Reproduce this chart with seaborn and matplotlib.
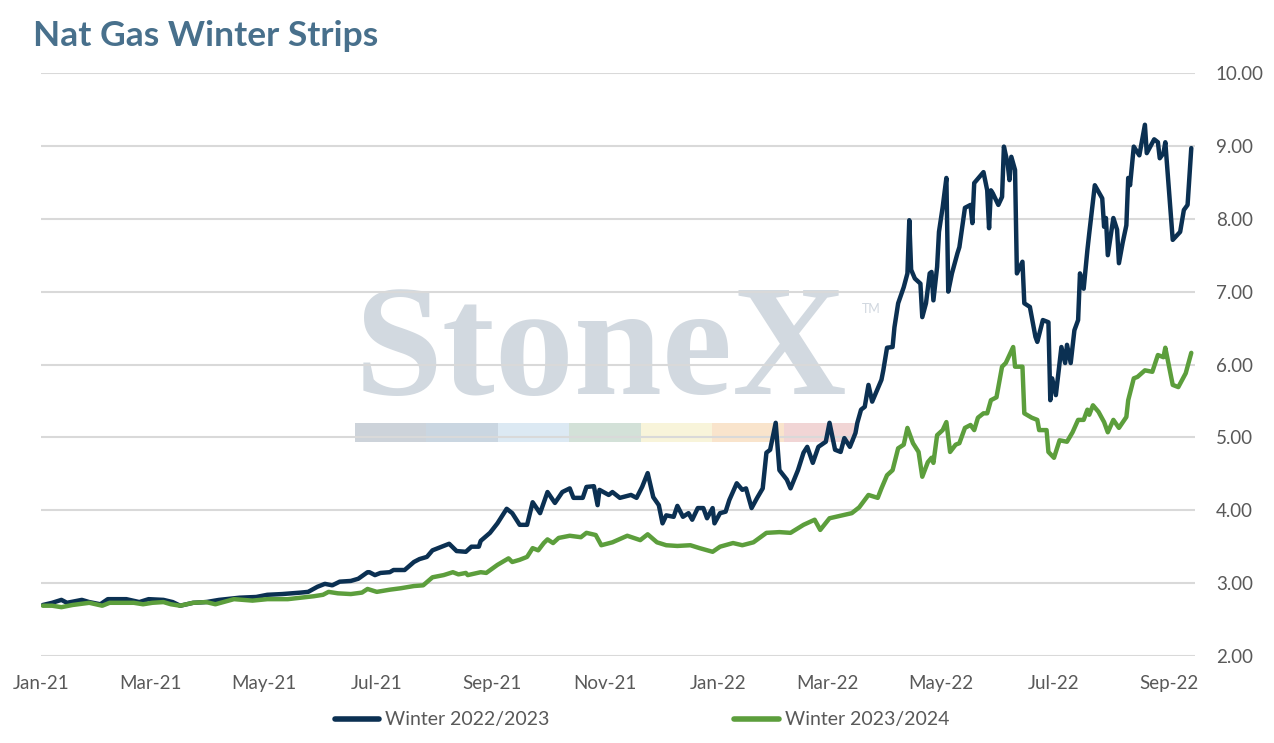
import matplotlib
matplotlib.use("Agg")
import matplotlib.pyplot as plt
import matplotlib.dates as mdates
from matplotlib.patches import Rectangle
from matplotlib.lines import Line2D
import seaborn as sns
import pandas as pd
import numpy as np

# series: days since 2021-01-01, settle price ($/MMBtu)
start_date = "2021-01-01"
axis_days = 622

w2223_days = [1, 6, 11, 14, 22, 26, 32, 36, 46, 53, 58, 66, 71, 75, 82, 89, 96, 107, 116, 122,
              130, 140, 144, 149, 153, 157, 161, 167, 171, 176, 177, 180, 183, 188, 190, 194, 196,
              201, 204, 208, 211, 217, 220, 224, 229, 232, 236, 237, 242, 246, 251, 254, 258, 262,
              265, 269, 273, 277, 281, 285, 287, 292, 294, 298, 300, 301, 306, 308, 312, 318, 321,
              324, 327, 330, 333, 335, 337, 341, 343, 346, 349, 351, 354, 357, 359, 362, 363, 366,
              369, 371, 375, 378, 380, 383, 386, 389, 391, 393, 396, 398, 402, 404, 408, 411, 413,
              416, 419, 423, 425, 428, 431, 433, 436, 439, 440, 442, 444, 446, 448, 453, 454, 456,
              459, 460, 462, 465, 467, 468, 469, 471, 474, 475, 477, 479, 480, 481, 483, 484, 486,
              488, 489, 491, 494, 495, 498, 501, 502, 503, 508, 510, 511, 512, 513, 516, 518, 519,
              521, 522, 523, 525, 526, 529, 530, 533, 536, 537, 540, 543, 544, 545, 547, 550, 552,
              553, 555, 557, 559, 560, 562, 564, 565, 568, 572, 573, 574, 575, 578, 580, 581, 583,
              585, 586, 587, 589, 592, 595, 596, 600, 602, 603, 605, 606, 610, 614, 616, 618, 620]
w2223_vals = [2.70, 2.73, 2.77, 2.73, 2.77, 2.74, 2.71, 2.78, 2.78, 2.74, 2.78, 2.77, 2.74, 2.69,
              2.73, 2.74, 2.77, 2.80, 2.81, 2.84, 2.85, 2.87, 2.88, 2.95, 2.99, 2.97, 3.02, 3.03,
              3.06, 3.15, 3.15, 3.11, 3.14, 3.15, 3.18, 3.18, 3.18, 3.29, 3.33, 3.36, 3.45, 3.51,
              3.54, 3.44, 3.43, 3.50, 3.50, 3.58, 3.69, 3.82, 4.02, 3.96, 3.80, 3.80, 4.11, 3.96,
              4.25, 4.10, 4.25, 4.30, 4.17, 4.17, 4.32, 4.33, 4.07, 4.28, 4.21, 4.25, 4.17, 4.21,
              4.17, 4.32, 4.51, 4.18, 4.07, 3.82, 3.93, 3.91, 4.06, 3.91, 3.96, 3.87, 4.03, 4.03,
              3.89, 4.03, 3.82, 3.96, 3.98, 4.14, 4.37, 4.28, 4.30, 4.03, 4.17, 4.30, 4.79, 4.83,
              5.20, 4.55, 4.42, 4.30, 4.55, 4.79, 4.87, 4.65, 4.87, 4.94, 5.20, 4.83, 4.80, 4.99,
              4.87, 5.06, 5.20, 5.38, 5.42, 5.72, 5.49, 5.79, 5.92, 6.23, 6.24, 6.51, 6.84, 7.06,
              7.25, 7.98, 7.30, 7.18, 7.11, 6.65, 6.84, 7.25, 7.27, 6.88, 7.34, 7.82, 8.16, 8.56,
              7.00, 7.25, 7.53, 7.61, 8.15, 8.19, 7.94, 8.49, 8.64, 8.39, 7.87, 8.39, 8.35, 8.19,
              8.30, 8.99, 8.76, 8.53, 8.85, 8.67, 7.25, 7.41, 6.84, 6.79, 6.38, 6.31, 6.61, 6.58,
              5.51, 5.81, 5.58, 6.24, 6.02, 6.27, 6.02, 6.47, 6.61, 7.25, 7.04, 7.57, 7.80, 8.46,
              8.28, 7.89, 8.01, 7.50, 8.01, 7.85, 7.39, 7.67, 7.91, 8.56, 8.46, 8.99, 8.87, 9.29,
              8.90, 9.09, 9.05, 8.83, 8.90, 9.05, 7.71, 7.82, 8.12, 8.19, 8.97]

w2324_days = [1, 6, 11, 17, 26, 33, 37, 50, 55, 60, 66, 70, 75, 82, 89, 94, 104, 114, 122, 133,
              140, 147, 152, 155, 160, 167, 173, 176, 181, 188, 194, 201, 206, 211, 217, 222, 225,
              229, 230, 237, 240, 246, 252, 254, 258, 262, 265, 268, 271, 273, 276, 279, 281, 285,
              291, 294, 299, 302, 308, 316, 323, 327, 332, 337, 343, 350, 355, 362, 366, 373, 378,
              384, 391, 398, 404, 411, 417, 420, 425, 432, 437, 441, 446, 451, 453, 456, 459, 462,
              465, 467, 470, 473, 475, 478, 480, 481, 483, 486, 488, 490, 493, 495, 498, 501, 503,
              505, 508, 510, 512, 515, 518, 520, 524, 525, 529, 530, 534, 537, 538, 542, 543, 546,
              549, 553, 556, 559, 562, 564, 565, 567, 570, 573, 575, 578, 581, 585, 586, 589, 591,
              595, 599, 602, 605, 606, 610, 613, 617, 620]
w2324_vals = [2.69, 2.69, 2.67, 2.70, 2.73, 2.69, 2.73, 2.73, 2.71, 2.73, 2.74, 2.71, 2.69, 2.73,
              2.74, 2.71, 2.78, 2.76, 2.78, 2.78, 2.80, 2.82, 2.84, 2.88, 2.86, 2.85, 2.87, 2.92,
              2.88, 2.91, 2.93, 2.96, 2.97, 3.08, 3.11, 3.15, 3.12, 3.14, 3.11, 3.15, 3.14, 3.25,
              3.34, 3.29, 3.32, 3.36, 3.48, 3.45, 3.55, 3.60, 3.55, 3.62, 3.63, 3.65, 3.63, 3.69,
              3.66, 3.52, 3.56, 3.65, 3.59, 3.67, 3.56, 3.52, 3.51, 3.52, 3.48, 3.43, 3.50, 3.55,
              3.52, 3.56, 3.69, 3.70, 3.69, 3.80, 3.87, 3.73, 3.89, 3.93, 3.96, 4.04, 4.21, 4.17,
              4.30, 4.48, 4.55, 4.85, 4.90, 5.13, 4.92, 4.80, 4.46, 4.66, 4.72, 4.65, 5.03, 5.10,
              5.21, 4.80, 4.90, 4.92, 5.13, 5.17, 5.10, 5.27, 5.33, 5.33, 5.51, 5.55, 5.97, 6.02,
              6.24, 5.97, 5.97, 5.33, 5.27, 5.24, 5.10, 5.10, 4.80, 4.72, 4.96, 4.94, 5.07, 5.24,
              5.24, 5.38, 5.31, 5.44, 5.35, 5.21, 5.07, 5.24, 5.13, 5.28, 5.51, 5.81, 5.83, 5.92,
              5.90, 6.13, 6.10, 6.23, 5.72, 5.69, 5.88, 6.16]

series_names = ["Winter 2022/2023", "Winter 2023/2024"]
series_colors = ["#0b3052", "#5c9e3c"]
y_ticks = [2, 3, 4, 5, 6, 7, 8, 9, 10]

# StoneX watermark stripe colours
stripe_colors = ["#cdd3da", "#cad6e1", "#dce9f3", "#d3e1d8", "#f8f4da", "#f9e4cc", "#f1d5d5"]

base = pd.Timestamp(start_date)
frames = []
for name, days, vals in [(series_names[0], w2223_days, w2223_vals),
                         (series_names[1], w2324_days, w2324_vals)]:
    frames.append(pd.DataFrame({
        "date": base + pd.to_timedelta(days, unit="D"),
        "price": vals,
        "series": name,
    }))
df = pd.concat(frames, ignore_index=True)

sns.set_theme(style="white")
plt.rcParams["font.family"] = ["Lato", "DejaVu Sans"]

W, H = 1274, 743
fig = plt.figure(figsize=(W / 100, H / 100), dpi=100)
ax = fig.add_axes([41 / W, 1 - 656 / H, (1195 - 41) / W, (656 - 73) / H])
ax.set_facecolor("none")

# watermark, sits under the grid
ax.text(355 / W, 1 - 394 / H, "StoneX", transform=fig.transFigure, fontsize=114,
        family="Liberation Serif", fontweight="bold", color="#d2d9e0", ha="left",
        va="baseline", zorder=0.1, clip_on=False)
ax.text(862 / W, 1 - 309 / H, "TM", transform=fig.transFigure, fontsize=9,
        color="#d0d7df", ha="left", va="center", zorder=0.1, clip_on=False)
seg_w = (855 - 355) / len(stripe_colors)
for i, c in enumerate(stripe_colors):
    ax.add_patch(Rectangle(((355 + i * seg_w) / W, 1 - 442 / H), seg_w / W, 19 / H,
                           transform=fig.transFigure, facecolor=c, edgecolor="none",
                           zorder=0.1, clip_on=False))

sns.lineplot(data=df, x="date", y="price", hue="series", palette=series_colors,
             hue_order=series_names, estimator=None, linewidth=3.2, legend=False,
             ax=ax, zorder=3)

ax.set_xlim(base, base + pd.Timedelta(days=axis_days))
ax.set_ylim(2, 10)
ax.set_yticks(y_ticks)
ax.yaxis.set_major_formatter(matplotlib.ticker.FormatStrFormatter("%.2f"))
ax.yaxis.tick_right()
ax.xaxis.set_major_locator(mdates.MonthLocator(bymonth=[1, 3, 5, 7, 9, 11]))
ax.xaxis.set_major_formatter(mdates.DateFormatter("%b-%y"))
ax.tick_params(axis="y", length=0, pad=15, labelsize=13.5, labelcolor="#595959")
ax.tick_params(axis="x", length=0, pad=14, labelsize=13.5, labelcolor="#595959")
ax.grid(axis="y", color="#d9d9d9", linewidth=1.5)
ax.grid(axis="x", visible=False)
ax.set_axisbelow(True)
ax.set_xlabel("")
ax.set_ylabel("")
for s in ax.spines.values():
    s.set_visible(False)

handles = [Line2D([0], [0], color=c, linewidth=4, solid_capstyle="round") for c in series_colors]
fig.legend(handles, series_names, loc="center", bbox_to_anchor=(642 / W, 1 - 720 / H),
           ncol=2, frameon=False, fontsize=14, labelcolor="#595959",
           handlelength=2.3, handletextpad=0.3, columnspacing=9.5)

fig.text(33 / W, 1 - 36 / H, "Nat Gas Winter Strips", fontsize=25.5, fontweight="bold",
         color="#48708c", ha="left", va="center")

fig.savefig("out.png", dpi=100)
